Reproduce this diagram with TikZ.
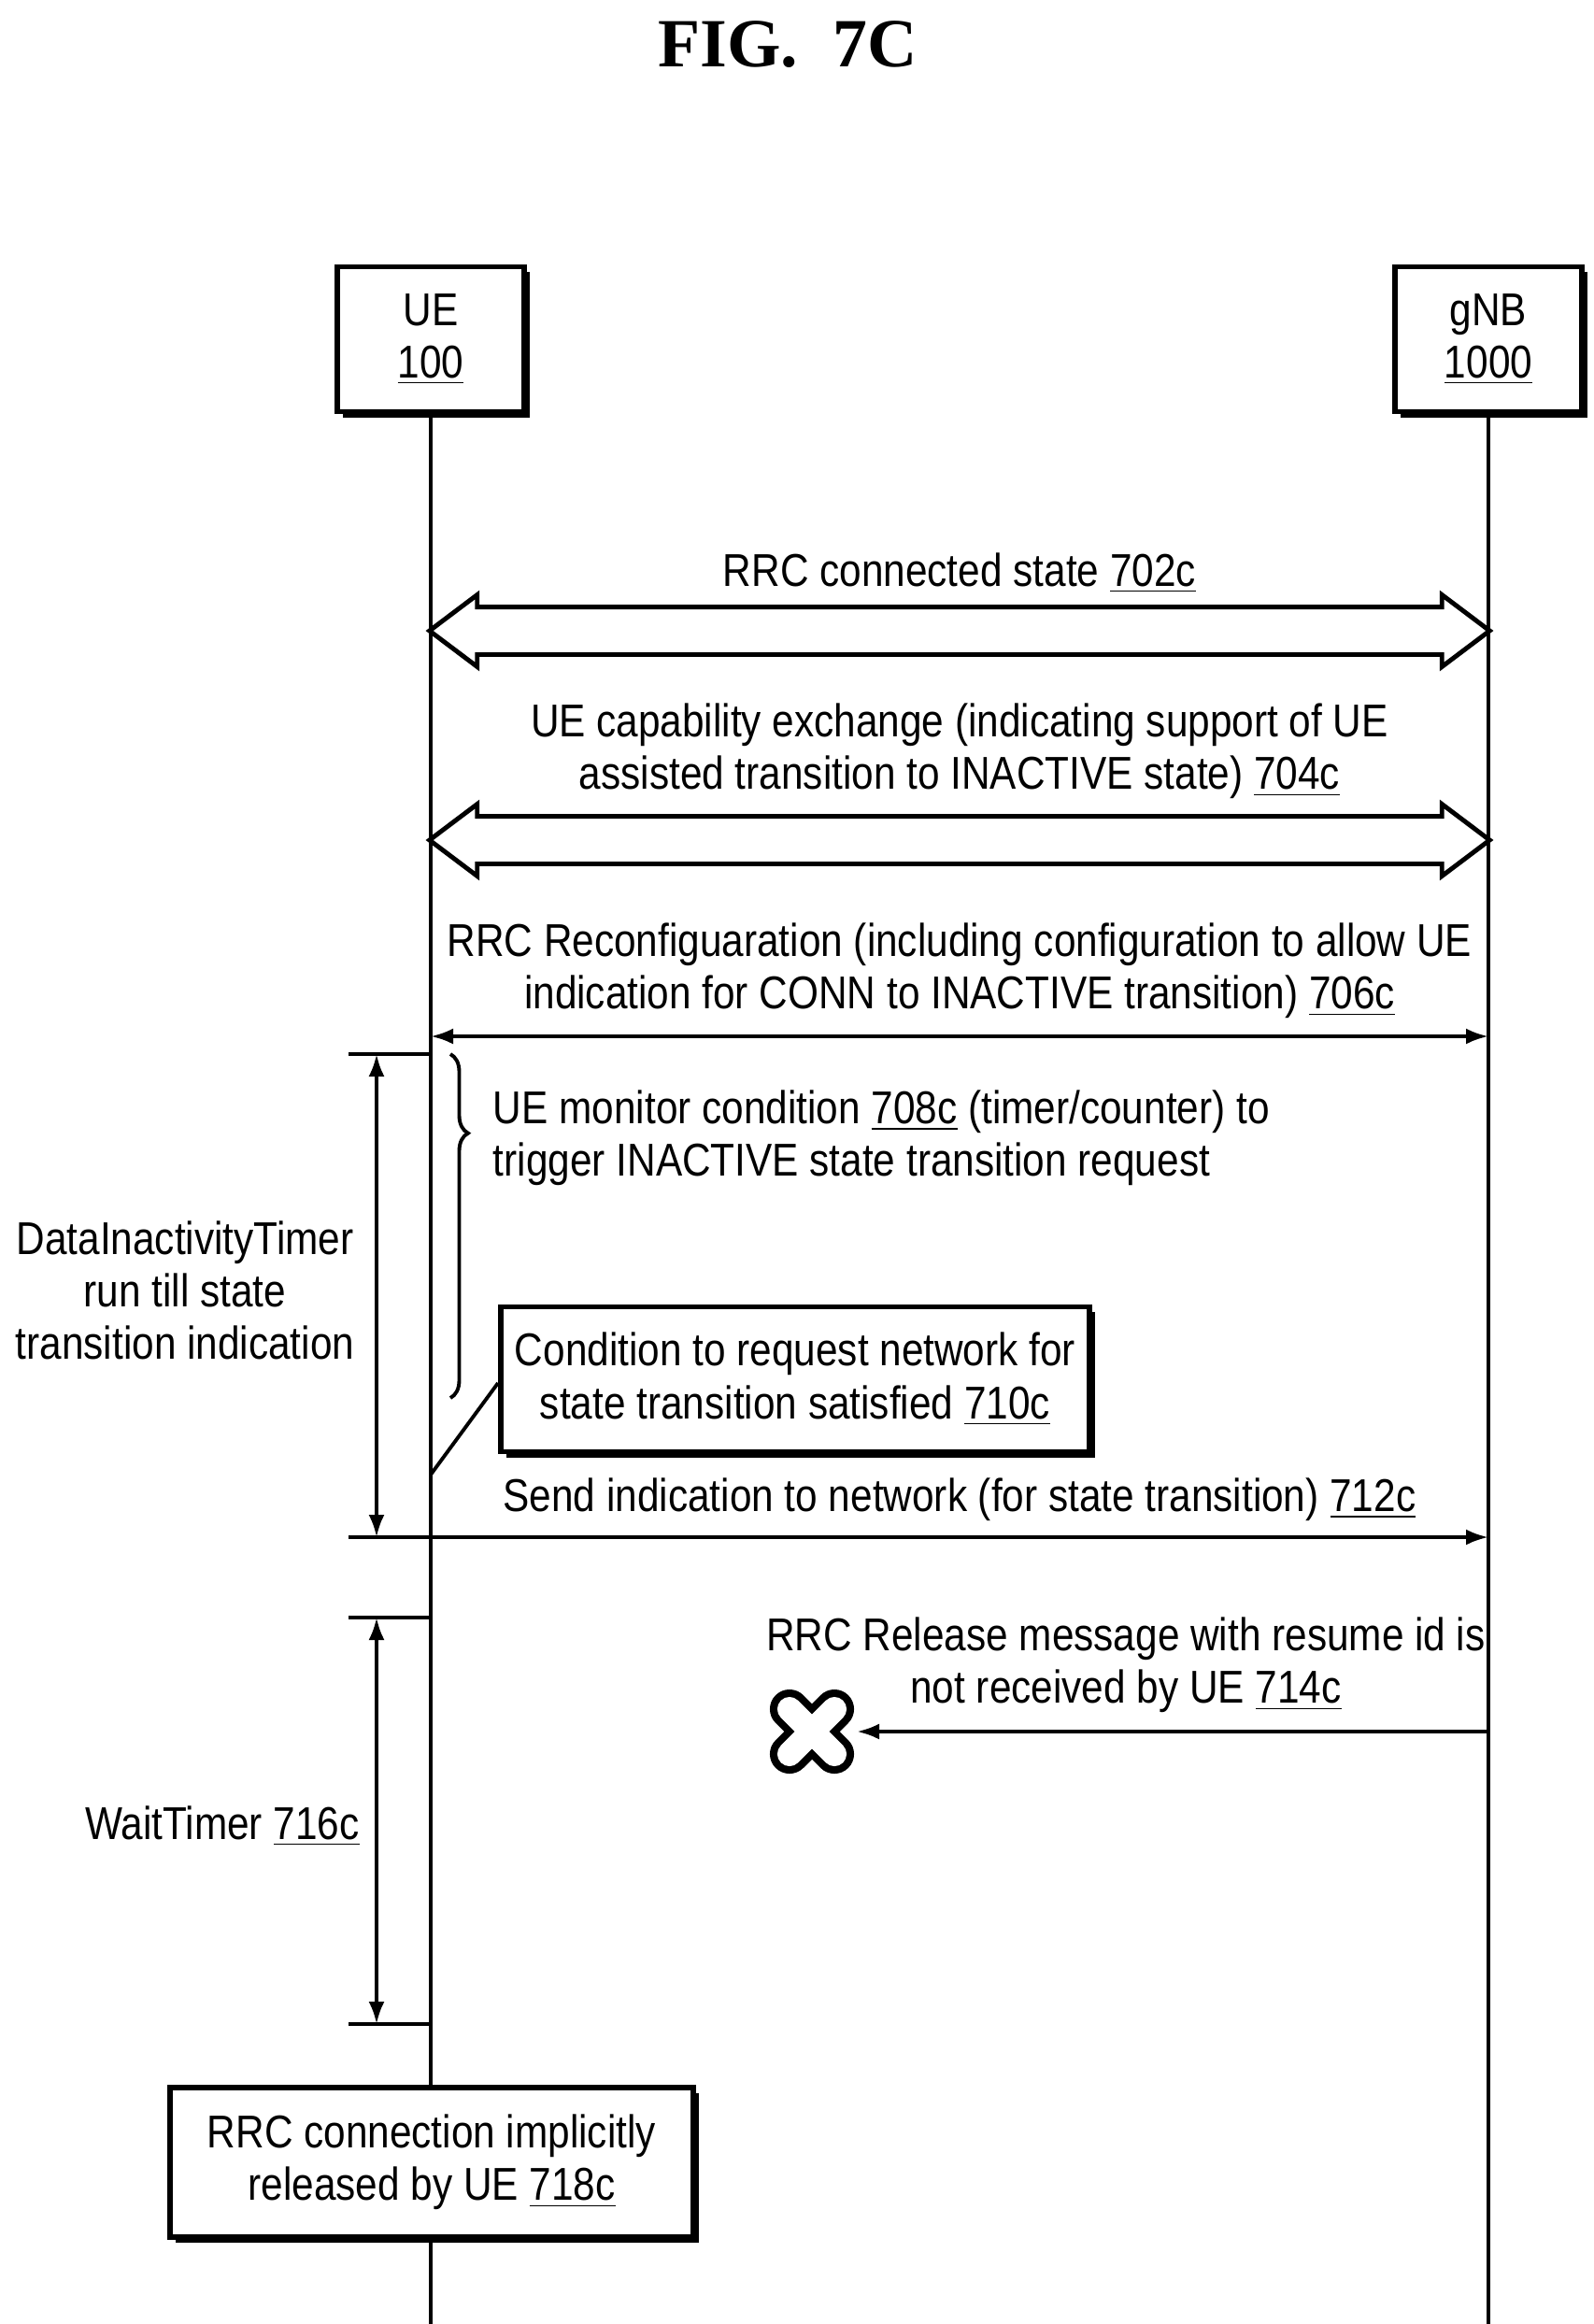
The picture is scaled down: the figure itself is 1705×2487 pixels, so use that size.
\documentclass[tikz,border=0pt]{standalone}
\usepackage{fontspec}
\setmainfont{Liberation Sans}[FakeStretch=0.86]
\newfontfamily\titlefont{Liberation Serif}
\usetikzlibrary{arrows.meta}
\usetikzlibrary{positioning}
\usetikzlibrary{calc}
\usetikzlibrary{shapes.arrows}
\usetikzlibrary{shadows}
\usetikzlibrary{decorations.pathreplacing}
\tikzset{
% Define standard arrow tip
>={Latex[length=2.4mm, width=1.7mm]}
}

\begin{document}
\begin{tikzpicture}[x=0.01cm, y=0.01cm, line width=1.1pt,
  font=\fontsize{14}{16}\selectfont,
  entity/.style={rectangle, draw=black, line width=1.6pt, fill=white,
    align=center, minimum width=2cm, minimum height=1.55cm,
    drop shadow={shadow xshift=0.6mm, shadow yshift=-0.6mm, fill=black, opacity=1}},
  note/.style={rectangle, draw=black, line width=1.6pt, fill=white, align=center,
    drop shadow={shadow xshift=0.6mm, shadow yshift=-0.6mm, fill=black, opacity=1}},
  darrow/.style={double arrow, draw=black, fill=white, line width=1.4pt,
    minimum width=7.2mm, inner xsep=0, inner ysep=2.3mm,
    double arrow head extend=1.3mm, double arrow tip angle=74,
    minimum height=11.34cm},
  msg/.style={align=center, inner sep=0}]
  \useasboundingbox (0,0) rectangle (1705,-2487);

  \node[font=\titlefont\fontsize{21}{24}\bfseries\selectfont] (title) at (843,-48) {FIG.~~7C};

  \node[entity] (ue) at (461,-363) {UE\\\underline{100}};
  \node[entity] (gnb) at (1593,-363) {gNB\\\underline{1000}};
  \coordinate (ue-end) at (461,-2487);
  \coordinate (gnb-end) at (1593,-2487);
  \draw[line width=0.9pt] (ue.south) -- (ue-end);
  \draw[line width=0.9pt] (gnb.south) -- (gnb-end);

  % double arrows
  \node[msg] (t702) at (1027,-613) {RRC connected state \underline{702c}};
  \node[darrow] (a702) at (1027,-675) {};
  \node[msg] (t704) at (1027,-804) {UE capability exchange (indicating support of UE\\assisted transition to INACTIVE state) \underline{704c}};
  \node[darrow] (a704) at (1027,-899) {};

  \node[msg] (t706) at (1027,-1039) {RRC Reconfiguaration (including configuration to allow UE\\indication for CONN to INACTIVE transition) \underline{706c}};
  \coordinate (ue706) at (461,-1109);
  \coordinate (gnb706) at (1593,-1109);
  \draw[<->] (ue706) -- (gnb706);

  % inactivity timer
  \coordinate (dt1) at (373,-1128);
  \coordinate (ue-dt1) at (461,-1128);
  \coordinate (dt2) at (373,-1645);
  \coordinate (ue-dt2) at (461,-1645);
  \draw (dt1) -- (ue-dt1);
  \draw (dt2) -- (ue-dt2);
  \draw[<->] ([xshift=0.3cm]dt1) -- ([xshift=0.3cm]dt2);
  \node[msg] (tdata) at (198,-1381) {DataInactivityTimer\\run till state\\transition indication};

  \coordinate (br1) at (482,-1128);
  \coordinate (br2) at (482,-1496);
  \draw[decorate, decoration={brace, amplitude=1.9mm, aspect=0.23}] (br1) -- (br2);
  \node[msg, align=left, anchor=west] (t708) at (526,-1218) {UE monitor condition \underline{708c} (timer/counter) to\\trigger INACTIVE state transition request};

  \node[note, minimum width=6.3cm, minimum height=1.55cm] (n710) at (851,-1476) {Condition to request network for\\state transition satisfied \underline{710c}};
  \coordinate (ue710) at (461,-1578);
  \draw ([yshift=-0.4mm]n710.west) -- (ue710);

  \node[msg] (t712) at (1027,-1605) {Send indication to network (for state transition) \underline{712c}};
  \coordinate (gnb712) at (1593,-1645);
  \draw[->] (ue-dt2) -- (gnb712);

  % wait timer
  \coordinate (wt1) at (373,-1731);
  \coordinate (ue-wt1) at (461,-1731);
  \coordinate (wt2) at (373,-2166);
  \coordinate (ue-wt2) at (461,-2166);
  \draw (wt1) -- (ue-wt1);
  \draw (wt2) -- (ue-wt2);
  \draw[<->] ([xshift=0.3cm]wt1) -- ([xshift=0.3cm]wt2);
  \node[msg] (t716) at (238,-1954) {WaitTimer \underline{716c}};

  \node[msg] (t714) at (1205,-1782) {RRC Release message with resume id is\\not received by UE \underline{714c}};
  \coordinate (gnb714) at (1593,-1853);
  \coordinate (lost) at (869,-1853);
  \draw[->] (gnb714) -- ([xshift=0.48cm]lost);
  \foreach \ang in {45,135} {
    \draw[line width=4.2mm, line cap=round] ($(lost)+(\ang:34)$) -- ($(lost)+(\ang+180:34)$);
  }
  \foreach \ang in {45,135} {
    \draw[line width=2.6mm, white, line cap=round] ($(lost)+(\ang:34)$) -- ($(lost)+(\ang+180:34)$);
  }

  \node[note, minimum width=5.6cm, minimum height=1.6cm] (n718) at (462,-2314) {RRC connection implicitly\\released by UE \underline{718c}};
\end{tikzpicture}
\end{document}
